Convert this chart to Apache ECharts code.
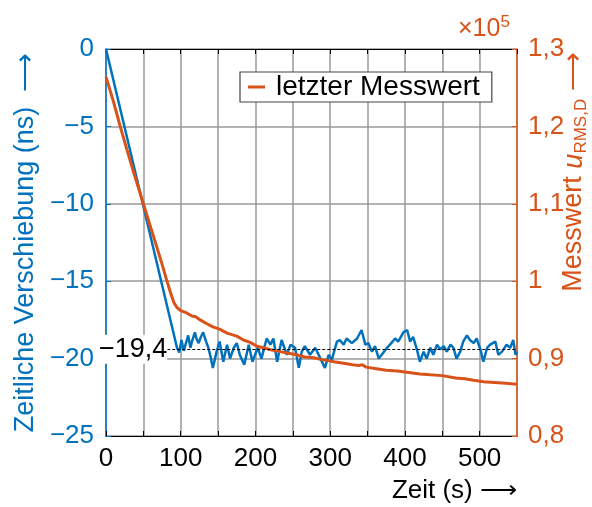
<!DOCTYPE html>
<html>
<head>
<meta charset="utf-8">
<script src="https://cdn.jsdelivr.net/npm/echarts@6/dist/echarts.min.js"></script>
<style>
  html, body { margin: 0; padding: 0; background: #fff; }
  #chart { width: 592px; height: 507px; }
</style>
</head>
<body>
<div id="chart"></div>
<script>
  // Zeitliche Verschiebung (ns), linke Achse
  var blueTime = [0, 95, 98, 101, 104, 106, 110, 113, 115, 119, 121, 124, 127, 130, 134, 137, 140, 143, 148, 152, 157, 162, 166, 171, 175, 179, 185, 191, 196, 203, 208, 215, 220, 224, 229, 235, 242, 247, 253, 258, 262, 266, 273, 280, 287, 293, 298, 302, 309, 313, 318, 322, 329, 336, 342, 347, 351, 356, 360, 365, 369, 376, 380, 387, 391, 398, 403, 407, 411, 416, 420, 425, 429, 434, 438, 443, 447, 452, 456, 461, 465, 469, 474, 478, 483, 487, 492, 496, 501, 505, 510, 514, 521, 525, 530, 536, 541, 545, 548, 550]
  var blueValue = [0, -19.3, -19.6, -18.8, -19.5, -19.4, -18.5, -19.3, -18.9, -18.3, -18.7, -19.0, -18.6, -18.3, -18.9, -19.3, -19.9, -20.6, -19.55, -18.9, -20.2, -19.1, -20.0, -19.3, -19.0, -19.75, -20.4, -19.1, -20.2, -19.3, -20.0, -18.7, -19.1, -18.7, -20.2, -18.8, -19.75, -19.1, -19.3, -20.6, -19.55, -19.2, -19.75, -19.3, -20.0, -20.6, -19.75, -20.1, -18.9, -18.8, -19.1, -18.7, -19.0, -18.7, -18.15, -19.1, -19.0, -19.55, -19.2, -20.0, -19.75, -19.3, -19.1, -18.7, -18.9, -18.3, -18.15, -18.9, -18.6, -19.4, -20.2, -19.55, -20.0, -19.3, -19.75, -19.1, -19.4, -19.2, -19.55, -19.1, -19.3, -20.0, -19.55, -18.9, -18.5, -18.8, -19.0, -18.7, -19.4, -20.2, -19.3, -19.1, -18.9, -19.75, -19.55, -19.1, -19.3, -18.8, -19.75, -19.55]
  // letzter Messwert (x10^5), rechte Achse
  var orangeTime = [0, 10, 19, 28, 36, 43, 50, 59, 68, 75, 81, 87, 91, 95, 100, 108, 115, 120, 126, 135, 143, 152, 162, 175, 184, 193, 202, 211, 222, 233, 244, 255, 266, 278, 287, 295, 305, 318, 330, 338, 343, 348, 362, 375, 390, 405, 420, 434, 450, 468, 480, 492, 505, 520, 535, 550]
  var orangeValue = [1.264, 1.232, 1.2, 1.17, 1.144, 1.122, 1.1, 1.072, 1.044, 1.022, 1.002, 0.983, 0.972, 0.966, 0.962, 0.959, 0.955, 0.954, 0.95, 0.945, 0.941, 0.938, 0.933, 0.929, 0.924, 0.921, 0.916, 0.914, 0.911, 0.909, 0.907, 0.905, 0.902, 0.901, 0.899, 0.898, 0.896, 0.894, 0.892, 0.891, 0.892, 0.889, 0.887, 0.885, 0.884, 0.882, 0.88, 0.879, 0.878, 0.875, 0.874, 0.872, 0.87, 0.869, 0.868, 0.867]
  var endValue = -19.4

  var BLUE = '#0072BD'
  var ORANGE = '#D95319'
  var FONT = 'Liberation Sans, Arial, sans-serif'

  var chart = echarts.init(document.getElementById('chart'))

  chart.setOption({
    animation: false,
    textStyle: { fontFamily: FONT },
    grid: {
      left: 106,
      right: 75,
      top: 49,
      bottom: 71
    },
    legend: {
      data: ['letzter Messwert'],
      left: 240,
      top: 72,
      backgroundColor: '#fff',
      borderColor: '#444',
      borderWidth: 1.2,
      borderRadius: 0,
      padding: [1, 12, 1, 8],
      itemWidth: 17,
      itemHeight: 3,
      icon: 'rect',
      textStyle: {
        fontSize: 28,
        color: '#000',
        padding: [0, 0, 0, 6]
      }
    },
    graphic: [
      {
        type: 'text',
        left: 458,
        top: 14,
        style: {
          text: '{a|\u00d710}{b|5}',
          rich: {
            a: { fontSize: 25, fill: ORANGE, fontFamily: FONT },
            b: { fontSize: 17, fill: ORANGE, fontFamily: FONT, padding: [0, 0, 14, 0] }
          }
        }
      },
      {
        type: 'text',
        x: 574,
        y: 172,
        rotation: Math.PI / 2,
        style: {
          text: '{a|Messwert }{u|u}{s|RMS,D}{a| \u27f6}',
          align: 'center',
          verticalAlign: 'middle',
          rich: {
            a: { fontSize: 27, fill: ORANGE, fontFamily: FONT },
            u: { fontSize: 27, fill: ORANGE, fontFamily: FONT, fontStyle: 'italic' },
            s: { fontSize: 17, fill: ORANGE, fontFamily: FONT, padding: [14, 0, 0, 0] }
          }
        }
      },
      {
        type: 'text',
        right: 75,
        top: 478,
        style: {
          text: 'Zeit (s) \u27f6',
          fontSize: 26,
          fill: '#000',
          fontFamily: FONT
        }
      }
    ],
    xAxis: [
      {
        type: 'value',
        min: 0,
        max: 550,
        interval: 50,
        axisLine: { onZero: false, lineStyle: { color: '#000', width: 1.2 } },
        axisTick: { inside: true, length: 5, lineStyle: { color: '#000' } },
        axisLabel: {
          fontSize: 26,
          color: '#000',
          margin: 10,
          showMaxLabel: false,
          formatter: function (v) { return v % 100 === 0 ? String(v) : '' }
        },
        splitLine: { show: true, lineStyle: { color: '#9a9a9a', width: 1.5 } }
      },
      {
        type: 'value',
        position: 'top',
        min: 0,
        max: 550,
        interval: 50,
        axisLine: { onZero: false, lineStyle: { color: '#000', width: 1.2 } },
        axisTick: { inside: true, length: 5, lineStyle: { color: '#000' } },
        axisLabel: { show: false },
        splitLine: { show: false }
      }
    ],
    yAxis: [
      {
        type: 'value',
        position: 'left',
        min: -25,
        max: 0,
        interval: 5,
        name: 'Zeitliche Verschiebung (ns)  \u27f6',
        nameLocation: 'middle',
        nameRotate: 90,
        nameGap: 66,
        nameTextStyle: { fontSize: 27, color: BLUE },
        axisLine: { show: true, onZero: false, lineStyle: { color: BLUE, width: 1.5 } },
        axisTick: { show: true, inside: true, length: 5, lineStyle: { color: BLUE } },
        axisLabel: {
          fontSize: 26,
          color: BLUE,
          margin: 12,
          formatter: function (v) { return v < 0 ? '\u2212' + Math.abs(v) : String(v) }
        },
        splitLine: { show: true, lineStyle: { color: '#9a9a9a', width: 1.5 } }
      },
      {
        type: 'value',
        position: 'right',
        min: 0.8,
        max: 1.3,
        interval: 0.1,
        axisLine: { show: true, onZero: false, lineStyle: { color: ORANGE, width: 1.5 } },
        axisTick: { show: true, inside: true, length: 5, lineStyle: { color: ORANGE } },
        axisLabel: {
          fontSize: 26,
          color: ORANGE,
          margin: 11,
          formatter: function (v) {
            var s = (Math.round(v * 10) / 10).toString()
            return s.replace('.', ',')
          }
        },
        splitLine: { show: false }
      }
    ],
    series: [
      {
        name: 'Verschiebung',
        type: 'line',
        yAxisIndex: 0,
        showSymbol: false,
        symbol: 'none',
        lineStyle: { color: BLUE, width: 2.5 },
        itemStyle: { color: BLUE },
        data: blueTime.map(function (t, i) { return [t, blueValue[i]] }),
        markLine: {
          silent: true,
          symbol: ['none', 'none'],
          lineStyle: { color: '#000', type: [3, 2], width: 1 },
          label: {
            position: 'start',
            distance: 0,
            fontSize: 27,
            color: '#000',
            backgroundColor: '#fff',
            padding: [2, 0, 0, 0],
            formatter: '\u2212' + String(Math.abs(endValue)).replace('.', ',')
          },
          data: [[{ coord: [82, endValue] }, { coord: [550, endValue] }]]
        },
        z: 2
      },
      {
        name: 'letzter Messwert',
        type: 'line',
        yAxisIndex: 1,
        showSymbol: false,
        symbol: 'none',
        lineStyle: { color: ORANGE, width: 3 },
        itemStyle: { color: ORANGE },
        data: orangeTime.map(function (t, i) { return [t, orangeValue[i]] }),
        z: 3
      }
    ]
  })
</script>
</body>
</html>
